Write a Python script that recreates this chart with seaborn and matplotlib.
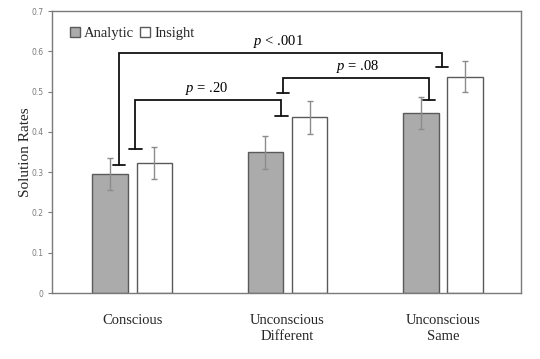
import pandas as pd
import matplotlib
matplotlib.use('Agg')
import matplotlib.pyplot as plt
import seaborn as sb

# values
conditions = ['Conscious', 'Unconscious\nDifferent', 'Unconscious\nSame']
analytic = [0.295, 0.350, 0.448]
insight = [0.323, 0.436, 0.537]
analytic_err = [0.040, 0.041, 0.040]
insight_err = [0.039, 0.040, 0.038]

# significance brackets: (x left, y left end, x right, y right end, y top, label, label x)
brackets = [
    (-0.084, 0.318, 1.994, 0.561, 0.596, '< .001', 0.94),
    (0.02, 0.357, 0.96, 0.440, 0.479, '= .20', 0.48),
    (0.97, 0.497, 1.91, 0.479, 0.534, '= .08', 1.45),
]

sb.set_style('white')
plt.rcParams['font.family'] = ['Liberation Serif', 'DejaVu Serif']
plt.rcParams['mathtext.fontset'] = 'custom'
plt.rcParams['mathtext.it'] = 'Liberation Serif:italic'
plt.rcParams['mathtext.rm'] = 'Liberation Serif'

df = pd.DataFrame({
    'Condition': conditions * 2,
    'Type': ['Analytic'] * 3 + ['Insight'] * 3,
    'Rate': analytic + insight,
})

fig = plt.figure(figsize=(5.4, 3.59), dpi=100)
ax = fig.add_axes([0.0963, 0.1838, 0.8687, 0.7852])

sb.barplot(data=df, x='Condition', y='Rate', hue='Type',
           palette={'Analytic': '#ababab', 'Insight': 'white'},
           edgecolor='#5a5a5a', linewidth=1.0, width=0.57, gap=0.2,
           errorbar=None, ax=ax)

errs = [analytic_err, insight_err]
for cont, err in zip(ax.containers, errs):
    xs = [p.get_x() + p.get_width() / 2 for p in cont]
    ys = [p.get_height() for p in cont]
    ax.errorbar(xs, ys, yerr=err, fmt='none', ecolor='#8c8c8c',
                elinewidth=1.0, capsize=2.5, capthick=1.0, zorder=5)

cap = 0.04
for xl, yl, xr, yr, ytop, lab, lx in brackets:
    ax.plot([xl, xl, xr, xr], [yl, ytop, ytop, yr], color='#111111', lw=1.3,
            solid_joinstyle='miter', zorder=6)
    ax.plot([xl - cap, xl + cap], [yl, yl], color='#111111', lw=1.3, zorder=6)
    ax.plot([xr - cap, xr + cap], [yr, yr], color='#111111', lw=1.3, zorder=6)
    ax.text(lx, ytop + 0.008, r'$\mathit{p}$ ' + lab, ha='center', va='bottom',
            fontsize=10.5, color='black')

ax.set_xlim(-0.516, 2.503)
ax.set_ylim(0, 0.7)
ax.set_yticks([0, 0.1, 0.2, 0.3, 0.4, 0.5, 0.6, 0.7])
ax.set_yticklabels(['0', '0.1', '0.2', '0.3', '0.4', '0.5', '0.6', '0.7'],
                   fontfamily='DejaVu Sans', fontsize=5.5, color='#7a7a7a')
ax.tick_params(axis='y', length=3, width=0.8, color='#7a7a7a', left=True, pad=3)
ax.tick_params(axis='x', length=0, pad=15, labelsize=10.5)
for t in ax.get_xticklabels():
    t.set_linespacing(1.35)
ax.set_xlabel('')
ax.set_ylabel('Solution Rates', fontsize=11, labelpad=0)
for s in ax.spines.values():
    s.set_visible(True)
    s.set_color('#7a7a7a')
    s.set_linewidth(1.0)

ax.legend(loc='upper left', bbox_to_anchor=(0.025, 0.965), ncol=2, frameon=False,
          fontsize=10.5, handlelength=0.7, handleheight=0.7, handletextpad=0.3,
          columnspacing=0.4, borderaxespad=0)

fig.savefig('out.png', dpi=100)
